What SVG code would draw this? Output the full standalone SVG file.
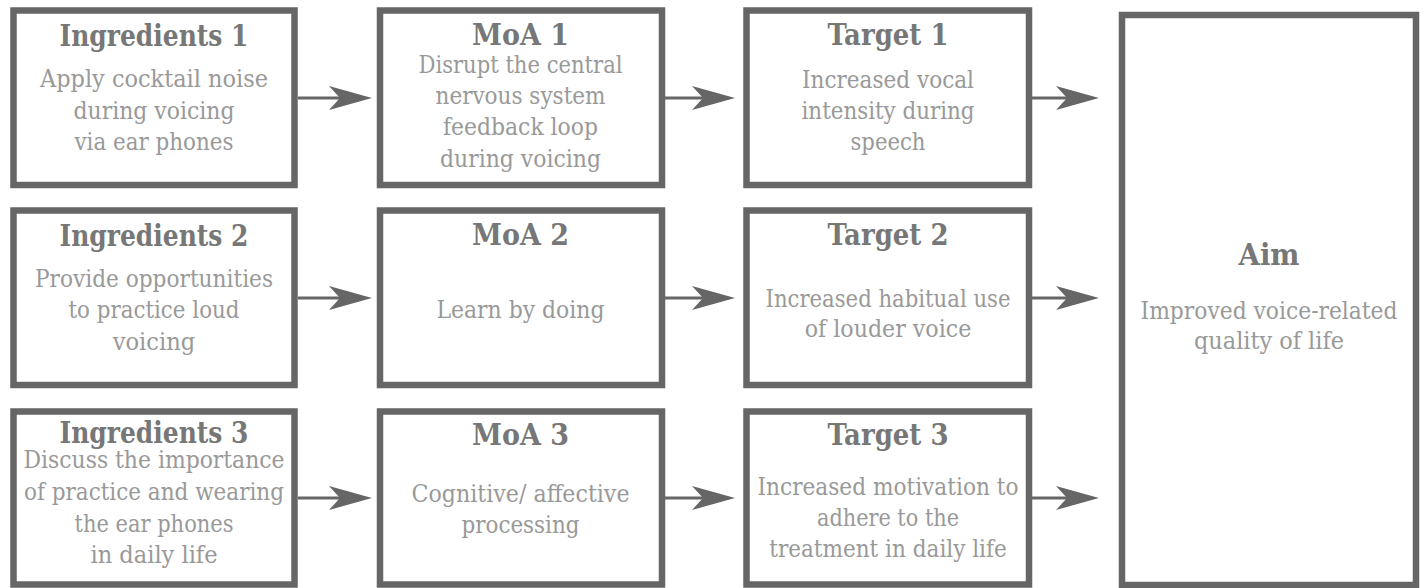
<svg xmlns="http://www.w3.org/2000/svg" width="1424" height="588" viewBox="0 0 1424 588">
<defs>
<style>
.box{fill:#fff;stroke:#666;stroke-width:6.5}
.t{font-family:'DejaVu Serif Condensed','DejaVu Serif',serif;font-stretch:condensed;font-weight:bold;font-size:30px;fill:#777;text-anchor:middle}
.b{font-family:'DejaVu Serif Condensed','DejaVu Serif',serif;font-stretch:condensed;font-size:23.5px;fill:#999;text-anchor:middle}
.ln{stroke:#666;stroke-width:3;fill:none}
.hd{fill:#666}
</style>
<path id="ah" d="M0,0 L-43,-12 L-32,0 L-43,12 Z"/>
</defs>
<rect width="1424" height="588" fill="#fff"/>
<g id="ingredients1">
<rect class="box" x="13.5" y="10.5" width="281" height="174.5"/>
<text class="t" x="154" y="46" textLength="189" lengthAdjust="spacingAndGlyphs">Ingredients 1</text>
<text class="b" x="154" y="87" textLength="228" lengthAdjust="spacingAndGlyphs">Apply cocktail noise</text>
<text class="b" x="154" y="119" textLength="161" lengthAdjust="spacingAndGlyphs">during voicing</text>
<text class="b" x="154" y="150" textLength="159" lengthAdjust="spacingAndGlyphs">via ear phones</text>
</g>
<g id="moa1">
<rect class="box" x="380" y="10.5" width="282" height="174.5"/>
<text class="t" x="520.5" y="45" textLength="97" lengthAdjust="spacingAndGlyphs">MoA 1</text>
<text class="b" x="520.5" y="72.5" textLength="204" lengthAdjust="spacingAndGlyphs">Disrupt the central</text>
<text class="b" x="520.5" y="104" textLength="170" lengthAdjust="spacingAndGlyphs">nervous system</text>
<text class="b" x="520.5" y="135" textLength="155" lengthAdjust="spacingAndGlyphs">feedback loop</text>
<text class="b" x="520.5" y="166.5" textLength="161" lengthAdjust="spacingAndGlyphs">during voicing</text>
</g>
<g id="target1">
<rect class="box" x="746.5" y="10.5" width="282.5" height="174.5"/>
<text class="t" x="888" y="45" textLength="121" lengthAdjust="spacingAndGlyphs">Target 1</text>
<text class="b" x="888" y="88" textLength="172" lengthAdjust="spacingAndGlyphs">Increased vocal</text>
<text class="b" x="888" y="119" textLength="173" lengthAdjust="spacingAndGlyphs">intensity during</text>
<text class="b" x="888" y="150" textLength="75" lengthAdjust="spacingAndGlyphs">speech</text>
</g>
<g id="ingredients2">
<rect class="box" x="13.5" y="210.5" width="281" height="174.5"/>
<text class="t" x="154" y="246" textLength="189" lengthAdjust="spacingAndGlyphs">Ingredients 2</text>
<text class="b" x="154" y="287" textLength="238" lengthAdjust="spacingAndGlyphs">Provide opportunities</text>
<text class="b" x="154" y="318" textLength="171" lengthAdjust="spacingAndGlyphs">to practice loud</text>
<text class="b" x="154" y="350" textLength="82.5" lengthAdjust="spacingAndGlyphs">voicing</text>
</g>
<g id="moa2">
<rect class="box" x="380" y="210.5" width="282" height="174.5"/>
<text class="t" x="520.5" y="245" textLength="97" lengthAdjust="spacingAndGlyphs">MoA 2</text>
<text class="b" x="520.5" y="318" textLength="168" lengthAdjust="spacingAndGlyphs">Learn by doing</text>
</g>
<g id="target2">
<rect class="box" x="746.5" y="210.5" width="282.5" height="174.5"/>
<text class="t" x="888" y="245" textLength="121" lengthAdjust="spacingAndGlyphs">Target 2</text>
<text class="b" x="888" y="306.5" textLength="245" lengthAdjust="spacingAndGlyphs">Increased habitual use</text>
<text class="b" x="888" y="337" textLength="166.5" lengthAdjust="spacingAndGlyphs">of louder voice</text>
</g>
<g id="ingredients3">
<rect class="box" x="13.5" y="411.5" width="281" height="173"/>
<text class="t" x="154" y="443" textLength="189" lengthAdjust="spacingAndGlyphs">Ingredients 3</text>
<text class="b" x="154" y="467.5" textLength="261" lengthAdjust="spacingAndGlyphs">Discuss the importance</text>
<text class="b" x="154" y="500" textLength="260" lengthAdjust="spacingAndGlyphs">of practice and wearing</text>
<text class="b" x="154" y="531.5" textLength="159" lengthAdjust="spacingAndGlyphs">the ear phones</text>
<text class="b" x="154" y="563" textLength="127" lengthAdjust="spacingAndGlyphs">in daily life</text>
</g>
<g id="moa3">
<rect class="box" x="380" y="411.5" width="282" height="173"/>
<text class="t" x="520.5" y="445" textLength="97" lengthAdjust="spacingAndGlyphs">MoA 3</text>
<text class="b" x="520.5" y="501.5" textLength="218" lengthAdjust="spacingAndGlyphs">Cognitive/ affective</text>
<text class="b" x="520.5" y="533" textLength="118" lengthAdjust="spacingAndGlyphs">processing</text>
</g>
<g id="target3">
<rect class="box" x="746.5" y="411.5" width="282.5" height="173"/>
<text class="t" x="888" y="445" textLength="121" lengthAdjust="spacingAndGlyphs">Target 3</text>
<text class="b" x="888" y="495" textLength="261" lengthAdjust="spacingAndGlyphs">Increased motivation to</text>
<text class="b" x="888" y="525.5" textLength="142" lengthAdjust="spacingAndGlyphs">adhere to the</text>
<text class="b" x="888" y="556.5" textLength="237.5" lengthAdjust="spacingAndGlyphs">treatment in daily life</text>
</g>
<g id="aim">
<rect class="box" x="1122" y="15" width="294" height="570"/>
<text class="t" x="1269" y="265" textLength="61" lengthAdjust="spacingAndGlyphs">Aim</text>
<text class="b" x="1269" y="319" textLength="257" lengthAdjust="spacingAndGlyphs">Improved voice-related</text>
<text class="b" x="1269" y="348.5" textLength="150" lengthAdjust="spacingAndGlyphs">quality of life</text>
</g>
<g id="connectors">
<line class="ln" x1="298" y1="98" x2="345" y2="98"/>
<use href="#ah" class="hd" x="372" y="98"/>
<line class="ln" x1="665" y1="98" x2="708" y2="98"/>
<use href="#ah" class="hd" x="735" y="98"/>
<line class="ln" x1="1032" y1="98" x2="1072" y2="98"/>
<use href="#ah" class="hd" x="1099" y="98"/>
<line class="ln" x1="298" y1="298" x2="345" y2="298"/>
<use href="#ah" class="hd" x="372" y="298"/>
<line class="ln" x1="665" y1="298" x2="708" y2="298"/>
<use href="#ah" class="hd" x="735" y="298"/>
<line class="ln" x1="1032" y1="298" x2="1072" y2="298"/>
<use href="#ah" class="hd" x="1099" y="298"/>
<line class="ln" x1="298" y1="498" x2="345" y2="498"/>
<use href="#ah" class="hd" x="372" y="498"/>
<line class="ln" x1="665" y1="498" x2="708" y2="498"/>
<use href="#ah" class="hd" x="735" y="498"/>
<line class="ln" x1="1032" y1="498" x2="1072" y2="498"/>
<use href="#ah" class="hd" x="1099" y="498"/>
</g>
</svg>
